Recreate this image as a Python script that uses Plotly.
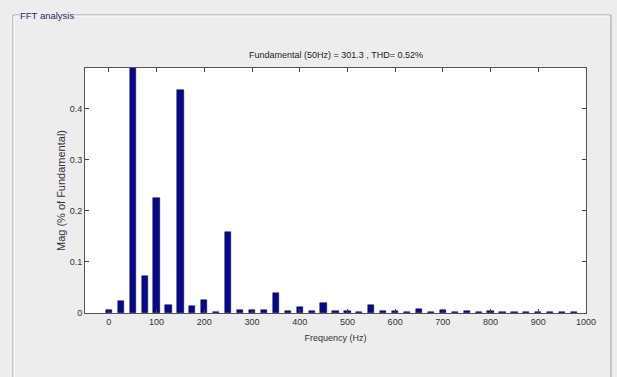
import plotly.graph_objects as go

freq_hz = [0, 25, 50, 75, 100, 125, 150, 175, 200, 225, 250, 275, 300, 325, 350, 375,
           400, 425, 450, 475, 500, 525, 550, 575, 600, 625, 650, 675, 700, 725, 750,
           775, 800, 825, 850, 875, 900, 925, 950, 975]
mag_pct = [0.0065, 0.024, 100.0, 0.072, 0.226, 0.015, 0.437, 0.014, 0.025, 0.002, 0.158,
           0.0065, 0.0065, 0.0065, 0.039, 0.004, 0.012, 0.004, 0.0195, 0.004, 0.004, 0.002,
           0.0165, 0.0045, 0.004, 0.0015, 0.007, 0.0015, 0.0065, 0.0015, 0.004, 0.0015,
           0.004, 0.0015, 0.0015, 0.0015, 0.0015, 0.0015, 0.0015, 0.0015]
x_ticks = [0, 100, 200, 300, 400, 500, 600, 700, 800, 900, 1000]
y_ticks = [0, 0.1, 0.2, 0.3, 0.4]
y_tick_labels = ["0", "0.1", "0.2", "0.3", "0.4"]

FONT = "Liberation Sans Narrow, Arial Narrow, Liberation Sans, Arial"

fig = go.Figure()
fig.add_trace(go.Bar(
    x=freq_hz, y=mag_pct, width=13,
    marker=dict(color="#08088a", line=dict(color="#000040", width=0.5)),
))

# plot area: x 85..586, y 68..313 (px)
W, H = 617, 377
L, R, T, B = 85, 586, 68, 313
pw, ph = R - L, B - T
def px(X):
    return (X - L) / pw
def py(Y):
    return (B - Y) / ph

shapes = [
    dict(type="path", xref="paper", yref="paper",
         path=f"M {px(13)},{py(390)} L {px(13)},{py(15)} L {px(611)},{py(15)} L {px(611)},{py(390)}",
         line=dict(color="#a0a0a0", width=1)),
    dict(type="path", xref="paper", yref="paper",
         path=f"M {px(14)},{py(390)} L {px(14)},{py(16)} L {px(610)},{py(16)}",
         line=dict(color="#ffffff", width=1)),
]

annotations = [
    dict(text="FFT analysis", xref="paper", yref="paper", x=px(19), y=py(15.5),
         xanchor="left", yanchor="middle", showarrow=False,
         font=dict(family=FONT, size=9.5, color="#2a2a6a"),
         bgcolor="#ededed", borderpad=0),
    dict(text="Fundamental (50Hz) = 301.3 , THD= 0.52%", xref="paper", yref="paper",
         x=0.5, y=py(55), xanchor="center", yanchor="middle", showarrow=False,
         font=dict(family=FONT, size=9, color="#222222")),
]

fig.update_layout(
    width=W, height=H,
    margin=dict(l=L, r=W - R, t=T, b=H - B),
    paper_bgcolor="#ededed",
    plot_bgcolor="#ffffff",
    showlegend=False,
    shapes=shapes,
    annotations=annotations,
    bargap=0,
    xaxis=dict(
        range=[-50, 1000], tickvals=x_ticks, ticks="inside", ticklen=4,
        tickcolor="#444444", showline=True, linecolor="#555555", linewidth=1,
        mirror="ticks", showgrid=False, zeroline=False,
        tickfont=dict(family=FONT, size=9, color="#333333"),
        title=dict(text="Frequency (Hz)", font=dict(family=FONT, size=9, color="#333333"),
                   standoff=8),
    ),
    yaxis=dict(
        range=[0, 0.48], tickvals=y_ticks, ticktext=y_tick_labels, ticks="inside",
        ticklen=4, tickcolor="#444444", showline=True, linecolor="#555555", linewidth=1,
        mirror="ticks", showgrid=False, zeroline=False,
        tickfont=dict(family=FONT, size=9, color="#333333"),
        title=dict(text="Mag (% of Fundamental)",
                   font=dict(family="Liberation Sans, Arial", size=11, color="#333333"),
                   standoff=1),
    ),
)

fig.write_html("out.html", config={"displayModeBar": False},
               post_script="document.body.style.margin='0px';")
